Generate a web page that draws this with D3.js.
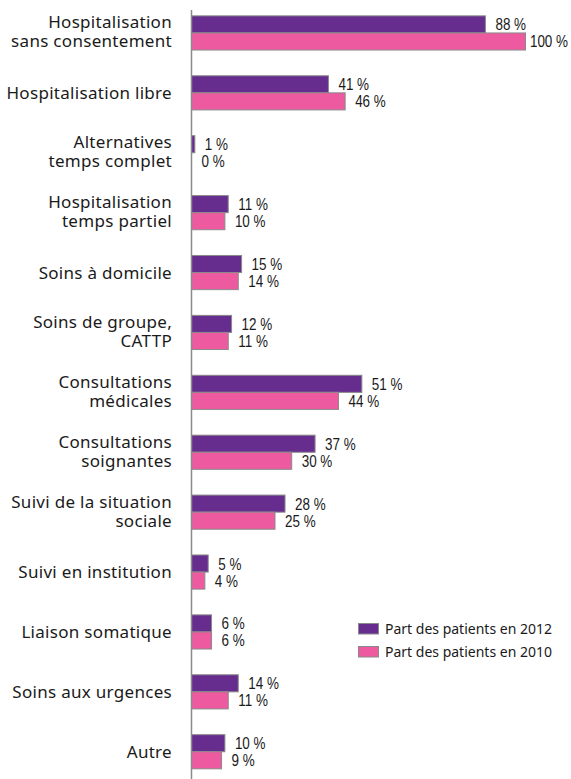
<!DOCTYPE html>
<html lang="fr">
<head>
<meta charset="UTF-8">
<title>Part des patients</title>
<script src="https://cdn.jsdelivr.net/npm/d3@7"></script>
<style>
    body { margin: 0; background: #fff; }
    .cat { font-family: "Noto Sans", sans-serif; font-size: 17px; letter-spacing: 0.3px; fill: #1a1a1a; }
    .val { font-family: "Liberation Sans", Arial, sans-serif; font-size: 16.8px; fill: #1a1a1a; }
    .leg { font-family: "Noto Sans", sans-serif; font-size: 14px; fill: #1a1a1a; }
    rect.bar { stroke: #8a8a8a; stroke-width: 1px; }
</style>
</head>
<body>
<div id="chart"></div>
<script>
    const width = 571;
    const height = 779;

    const categories = [
        ["Hospitalisation", "sans consentement"],
        ["Hospitalisation libre"],
        ["Alternatives", "temps complet"],
        ["Hospitalisation", "temps partiel"],
        ["Soins à domicile"],
        ["Soins de groupe,", "CATTP"],
        ["Consultations", "médicales"],
        ["Consultations", "soignantes"],
        ["Suivi de la situation", "sociale"],
        ["Suivi en institution"],
        ["Liaison somatique"],
        ["Soins aux urgences"],
        ["Autre"]
    ];
    const values2012 = [88, 41, 1, 11, 15, 12, 51, 37, 28, 5, 6, 14, 10];
    const values2010 = [100, 46, 0, 10, 14, 11, 44, 30, 25, 4, 6, 11, 9];
    const seriesNames = ["Part des patients en 2012", "Part des patients en 2010"];
    const seriesColors = ["#662d8f", "#ee5a9f"];

    const AXIS_X = 191.5;
    const LABEL_SQUEEZE = 0.8; // condensed look for the value labels

    const rows = categories.map(function (c, i) {
        return { key: i, lines: c, values: [values2012[i], values2010[i]] };
    });

    const svg = d3.select("#chart")
        .append("svg")
        .attr("width", width)
        .attr("height", height);

    const x = d3.scaleLinear()
        .domain([0, 100])
        .range([AXIS_X, 525.5]);

    const y = d3.scaleBand()
        .domain(rows.map(function (d) { return d.key; }))
        .range([3, 781.7])
        .paddingInner(0.43)
        .paddingOuter(0.215);

    const ySub = d3.scaleBand()
        .domain([0, 1])
        .range([0, y.bandwidth()]);

    const groups = svg.selectAll("g.row")
        .data(rows)
        .enter()
        .append("g")
        .attr("class", "row")
        .attr("transform", function (d) { return "translate(0," + y(d.key) + ")"; });

    // category labels, right aligned against the axis
    groups.append("text")
        .attr("class", "cat")
        .attr("text-anchor", "end")
        .attr("x", 172)
        .attr("y", function (d) {
            return y.bandwidth() / 2 + (d.lines.length === 1 ? 6 : -4.5);
        })
        .selectAll("tspan")
        .data(function (d) { return d.lines; })
        .enter()
        .append("tspan")
        .attr("x", 172)
        .attr("dy", function (d, i) { return i === 0 ? 0 : 19; })
        .text(function (d) { return d; });

    const bars = groups.selectAll("g.bar")
        .data(function (d) {
            return d.values.map(function (v, s) { return { s: s, v: v }; });
        })
        .enter()
        .append("g")
        .attr("class", "bar");

    bars.append("rect")
        .attr("class", "bar")
        .attr("x", x(0))
        .attr("y", function (d) { return ySub(d.s); })
        .attr("width", function (d) { return x(d.v) - x(0); })
        .attr("height", ySub.bandwidth())
        .style("fill", function (d) { return seriesColors[d.s]; });

    bars.append("text")
        .attr("class", "val")
        .text(function (d) { return d.v + " %"; })
        .attr("transform", function (d) {
            const w = this.getComputedTextLength() * LABEL_SQUEEZE;
            const lx = Math.min(x(d.v) + 10, width - w - 3);
            const ly = ySub(d.s) + ySub.bandwidth() / 2 + 6;
            return "translate(" + lx + "," + ly + ") scale(" + LABEL_SQUEEZE + ",1)";
        });

    // vertical axis line
    svg.append("line")
        .attr("x1", AXIS_X)
        .attr("x2", AXIS_X)
        .attr("y1", 10)
        .attr("y2", 779)
        .style("stroke", "#8a8a8a")
        .style("stroke-width", 1.5);

    // legend
    const legend = svg.selectAll("g.legend")
        .data(seriesNames)
        .enter()
        .append("g")
        .attr("class", "legend")
        .attr("transform", function (d, i) { return "translate(358.5," + (623.5 + i * 23) + ")"; });

    legend.append("rect")
        .attr("width", 20)
        .attr("height", 10.5)
        .style("fill", function (d, i) { return seriesColors[i]; })
        .style("stroke", "#8a8a8a")
        .style("stroke-width", 1);

    legend.append("text")
        .attr("class", "leg")
        .attr("x", 26.5)
        .attr("y", 10.5)
        .text(function (d) { return d; });
</script>
</body>
</html>
